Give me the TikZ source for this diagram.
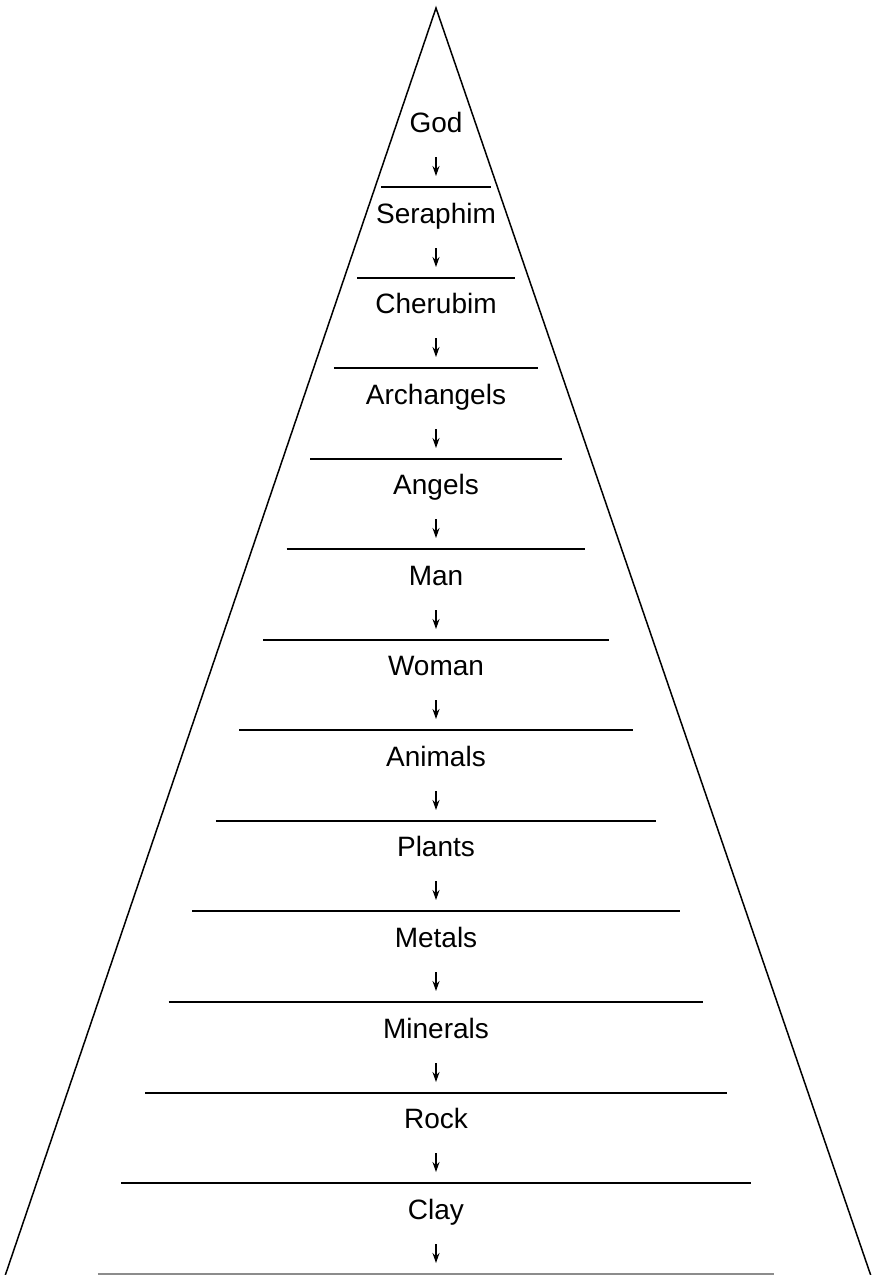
\documentclass[tikz,border=0pt]{standalone}
\usepackage{fontspec}
\setmainfont{Liberation Sans}
\usetikzlibrary{arrows.meta}
\begin{document}
\begin{tikzpicture}[x=1pt,y=-1pt,
  lvl/.style={anchor=base,font=\fontsize{28}{31}\selectfont,inner sep=0pt},
  sep/.style={line width=1.6pt,black},
  lastsep/.style={line width=1.6pt,black!45},
  arr/.style={line width=1.2pt,-{Stealth[length=10pt,width=7pt]}},
  edge/.style={line width=1.5pt,line join=miter}]
\useasboundingbox (0,0) rectangle (875,1275);
\coordinate (apex) at (436,8);
\coordinate (bl) at (5,1276);
\coordinate (br) at (871,1276);
\draw[edge] (bl) -- (apex) -- (br);
\foreach \name [count=\i] in {God,Seraphim,Cherubim,Archangels,Angels,Man,Woman,Animals,Plants,Metals,Minerals,Rock,Clay}{
  \pgfmathsetmacro{\ly}{round(187+90.55*(\i-1))}
  \pgfmathsetmacro{\hw}{55+23.6*(\i-1)}
  \pgfmathsetmacro{\ty}{\ly-55}
  \node[lvl] (t\i) at (436,\ty) {\name};
  \coordinate (l\i) at (436,\ly);
  \coordinate (a\i) at (436,\ly-30);
  \coordinate (b\i) at (436,\ly-11);
  \ifnum\i<13
    \draw[sep] ([xshift=-\hw pt]l\i) -- ([xshift=\hw pt]l\i);
  \else
    \draw[lastsep] ([xshift=-\hw pt]l\i) -- ([xshift=\hw pt]l\i);
  \fi
  \draw[arr] (a\i) -- (b\i);
}
\end{tikzpicture}
\end{document}
